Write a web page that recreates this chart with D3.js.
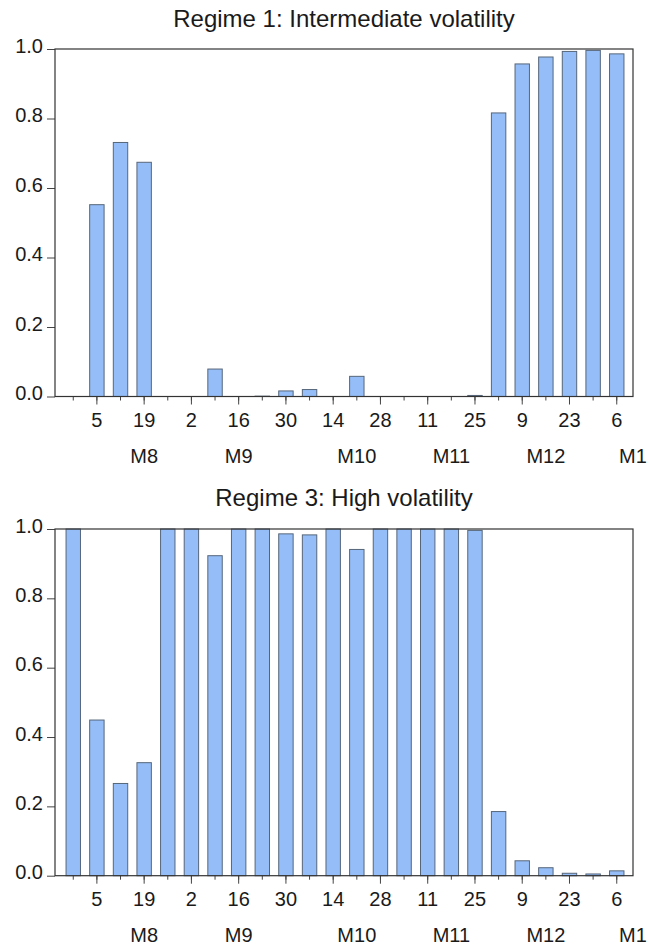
<!DOCTYPE html>
<html>
<head>
<meta charset="utf-8">
<script src="https://cdn.jsdelivr.net/npm/d3@7"></script>
<style>
  body { margin: 0; background: #fff; }
  svg text { font-family: "Liberation Sans", Arial, sans-serif; fill: #1a1a1a; }
</style>
</head>
<body>
<svg id="chart" width="649" height="945"></svg>
<script>
// weekly observations, Jul 29 .. Jan 6
const weeks = ['07-29','08-05','08-12','08-19','08-26','09-02','09-09','09-16','09-23','09-30',
  '10-07','10-14','10-21','10-28','11-04','11-11','11-18','11-25','12-02','12-09','12-16','12-23','12-30','01-06'];

// every second week gets a day label
const dayTicks = ['08-05','08-19','09-02','09-16','09-30','10-14','10-28','11-11','11-25','12-09','12-23','01-06'];

const monthLabels = ['M8','M9','M10','M11','M12','M1'];
const monthAt = ['08-19','09-16','10-21','11-18','12-16', null]; // null = end of axis

const yTicks = [0, 0.2, 0.4, 0.6, 0.8, 1.0];

const regime1 = [0, 0.552, 0.731, 0.674, 0, 0, 0.079, 0, 0.001, 0.016,
  0.02, 0, 0.058, 0, 0, 0, 0, 0.003, 0.816, 0.957, 0.977, 0.993, 0.996, 0.986];

const regime3 = [1.0, 0.449, 0.266, 0.326, 1.0, 1.0, 0.923, 1.0, 1.0, 0.986,
  0.983, 1.0, 0.941, 1.0, 1.0, 1.0, 1.0, 0.996, 0.185, 0.043, 0.023, 0.007, 0.005, 0.014];

const panels = [
  { title: 'Regime 1: Intermediate volatility', values: regime1, top: 49, bottom: 396.5, titleY: 27 },
  { title: 'Regime 3: High volatility', values: regime3, top: 529, bottom: 875.7, titleY: 506 }
];

const svg = d3.select('#chart');
const left = 55, right = 633;

const x = d3.scaleBand()
  .domain(weeks)
  .range([left, right])
  .paddingInner(0.39)
  .paddingOuter(0.425)
  .align(0.55);

const cx = d => x(d) + x.bandwidth() / 2;

panels.forEach(p => {
  const y = d3.scaleLinear().domain([0, 1]).range([p.bottom, p.top]);
  const g = svg.append('g');

  g.append('text')
    .attr('x', (left + right) / 2)
    .attr('y', p.titleY)
    .attr('text-anchor', 'middle')
    .style('font-size', '24px')
    .text(p.title);

  // bars
  g.selectAll('rect.bar')
    .data(p.values)
    .enter().append('rect')
    .attr('class', 'bar')
    .attr('x', (d, i) => x(weeks[i]))
    .attr('width', x.bandwidth())
    .attr('y', d => y(d))
    .attr('height', d => y(0) - y(d))
    .attr('fill', '#95bef9')
    .attr('stroke', '#56667a')
    .attr('stroke-width', 1);

  // y axis
  const ya = g.append('g')
    .attr('transform', `translate(${left},0)`)
    .call(d3.axisLeft(y).tickValues(yTicks).tickFormat(d3.format('.1f')).tickSize(8).tickPadding(4));
  ya.select('.domain').remove();
  ya.selectAll('text').style('font-size', '20px').attr('dy', '0.15em');

  // minor x ticks (every week)
  const xa = g.append('g')
    .attr('transform', `translate(0,${p.bottom})`)
    .call(d3.axisBottom(x).tickSize(4).tickFormat(''));
  xa.select('.domain').remove();

  // labelled x ticks
  const xl = g.append('g')
    .attr('transform', `translate(0,${p.bottom})`)
    .call(d3.axisBottom(x).tickValues(dayTicks).tickSize(8).tickPadding(8)
      .tickFormat(d => String(+d.slice(3))));
  xl.select('.domain').remove();
  xl.selectAll('text').style('font-size', '20px');

  g.selectAll('.tick line').attr('stroke', '#444');

  // month labels
  g.selectAll('text.month')
    .data(monthLabels)
    .enter().append('text')
    .attr('class', 'month')
    .attr('x', (d, i) => monthAt[i] ? cx(monthAt[i]) : right)
    .attr('y', p.bottom + 66)
    .attr('text-anchor', 'middle')
    .style('font-size', '20px')
    .text(d => d);

  // frame
  g.append('rect')
    .attr('x', left)
    .attr('y', p.top)
    .attr('width', right - left)
    .attr('height', p.bottom - p.top)
    .attr('fill', 'none')
    .attr('stroke', '#333')
    .attr('stroke-width', 1.2);
});
</script>
</body>
</html>
